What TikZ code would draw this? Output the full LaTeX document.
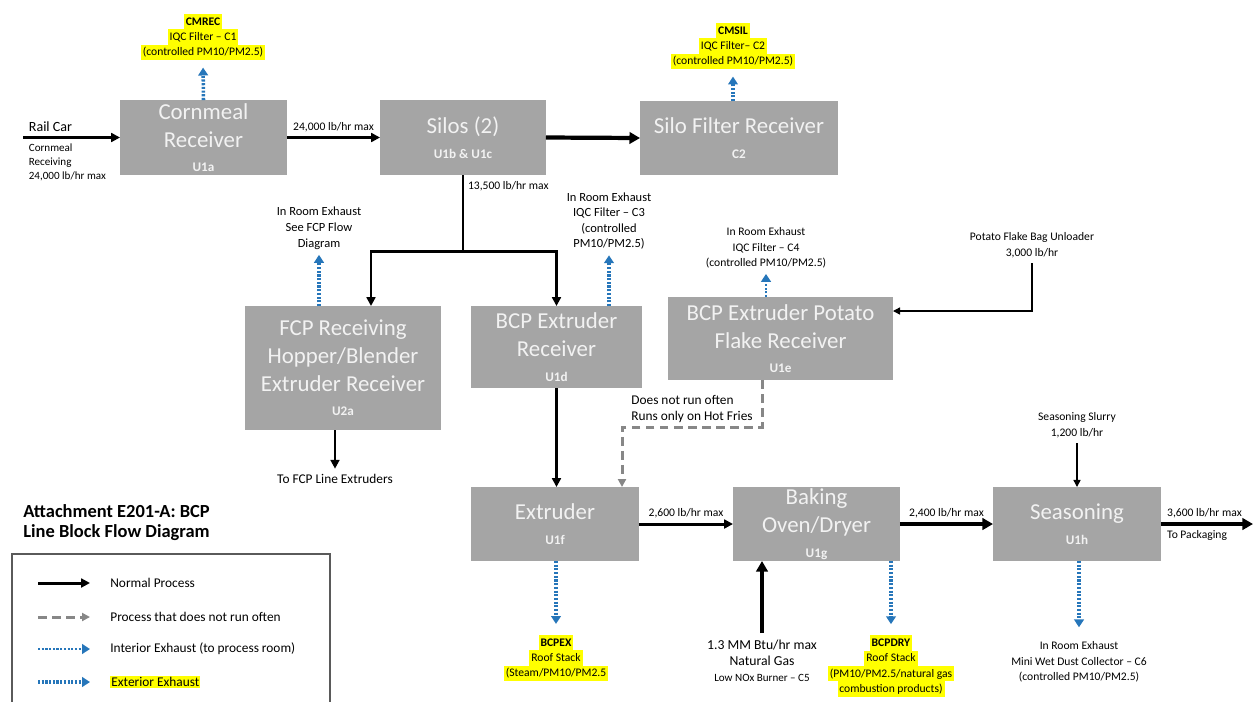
\documentclass[tikz,border=0pt]{standalone}
\usepackage{fontspec}
\setmainfont{Carlito}
\usepackage{xcolor}
\usetikzlibrary{arrows.meta, positioning}

\definecolor{boxgray}{RGB}{165,165,165}
\definecolor{boxtext}{RGB}{242,242,242}
\definecolor{exblue}{RGB}{38,118,186}
\definecolor{hlyellow}{RGB}{255,255,0}
\definecolor{dashgray}{RGB}{135,135,135}
\definecolor{legframe}{RGB}{90,90,90}

\newcommand{\hl}[1]{{\setlength{\fboxsep}{0pt}\colorbox{hlyellow}{\rule[-2.4pt]{0pt}{8.8pt}\,#1\,}}}
\newcommand{\unitid}[1]{{\fontsize{7.5}{9}\selectfont\bfseries #1}}

\begin{document}
\begin{tikzpicture}[
  x=0.02cm, y=-0.02cm,
  unitbox/.style={rectangle, fill=boxgray, text=boxtext, inner sep=0pt, outer sep=0pt,
    align=center, font=\fontsize{13}{15.9}\selectfont},
  lbl/.style={inner sep=0pt, align=center, font=\fontsize{6.6}{8.8}\selectfont},
  midlbl/.style={inner sep=0pt, align=center, font=\fontsize{7.6}{9}\selectfont},
  proc/.style={line width=1.7pt},
  flow/.style={proc, -{Triangle[length=5pt,width=5pt]}},
  bigflow/.style={line width=2.4pt, -{Triangle[length=6pt,width=6.5pt]}},
  thinflow/.style={-{Triangle[length=4pt,width=4pt]}, line width=0.8pt},
  rareflow/.style={-{Triangle[length=4.5pt,width=4.5pt]}, line width=1.7pt, draw=dashgray,
    dash pattern=on 5pt off 3pt},
  exhaust/.style={-{Triangle[length=4.5pt,width=5.5pt]}, line width=2pt, draw=exblue,
    dash pattern=on 1.2pt off 0.9pt},
  inexhaust/.style={exhaust, line width=1.3pt}
]
  \useasboundingbox (0,0) rectangle (1254,701);

  % process units
  \node[unitbox, minimum width=3.34cm, minimum height=1.5cm] (cmr) at (203.5,137.5) {Cornmeal\\Receiver\\[-2pt]\unitid{U1a}};
  \node[unitbox, minimum width=3.32cm, minimum height=1.5cm] (silo) at (463,137.5) {Silos (2)\\[-2pt]\unitid{U1b \& U1c}};
  \node[unitbox, minimum width=3.96cm, minimum height=1.48cm] (sfr) at (739,138) {Silo Filter Receiver\\[-2pt]\unitid{C2}};
  \node[unitbox, minimum width=3.92cm, minimum height=2.48cm] (fcp) at (343,368) {FCP Receiving\\Hopper/Blender\\Extruder Receiver\\[-2pt]\unitid{U2a}};
  \node[unitbox, minimum width=3.42cm, minimum height=1.64cm] (bcpr) at (556.5,347) {BCP Extruder\\Receiver\\[-2pt]\unitid{U1d}};
  \node[unitbox, minimum width=4.5cm, minimum height=1.66cm] (pfr) at (780.5,338.5) {BCP Extruder Potato\\Flake Receiver\\[-2pt]\unitid{U1e}};
  \node[unitbox, minimum width=3.36cm, minimum height=1.48cm] (ext) at (555,524) {Extruder\\[-2pt]\unitid{U1f}};
  \node[unitbox, minimum width=3.34cm, minimum height=1.48cm] (bake) at (816.5,524) {Baking\\Oven/Dryer\\[-2pt]\unitid{U1g}};
  \node[unitbox, minimum width=3.36cm, minimum height=1.48cm] (seas) at (1077,524) {Seasoning\\[-2pt]\unitid{U1h}};

  % control device and source labels
  \node[lbl] (cmrec) at (203,37) {\hl{\textbf{CMREC}}\\\hl{IQC Filter – C1}\\\hl{(controlled PM10/PM2.5)}};
  \node[lbl] (cmsil) at (733,46) {\hl{\textbf{CMSIL}}\\\hl{IQC Filter– C2}\\\hl{(controlled PM10/PM2.5)}};
  \node[lbl, font=\fontsize{7.1}{9}\selectfont] (fcpex) at (319,228) {In Room Exhaust\\See FCP Flow\\Diagram};
  \node[lbl, font=\fontsize{7.1}{8.9}\selectfont] (bcprex) at (609,221) {In Room Exhaust\\IQC Filter – C3\\(controlled\\PM10/PM2.5)};
  \node[lbl] (pfrex) at (766,248) {In Room Exhaust\\IQC Filter – C4\\(controlled PM10/PM2.5)};
  \node[lbl] (pfbu) at (1032,245) {Potato Flake Bag Unloader\\3,000 lb/hr};
  \node[lbl] (slurry) at (1077,425) {Seasoning Slurry\\1,200 lb/hr};
  \node[midlbl] (fcpout) at (335,479) {To FCP Line Extruders};
  \node[midlbl, anchor=west, align=left] (rarenote) at (631,409) {Does not run often\\Runs only on Hot Fries};
  \node[lbl] (bcpex) at (556,658) {\hl{\textbf{BCPEX}}\\\hl{Roof Stack}\\\hl{(Steam/PM10/PM2.5}};
  \node[lbl] (bcpdry) at (891,666) {\hl{\textbf{BCPDRY}}\\\hl{Roof Stack}\\\hl{(PM10/PM2.5/natural gas}\\\hl{combustion products)}};
  \node[lbl, font=\fontsize{6.3}{9}\selectfont] (gas) at (762,661) {{\fontsize{7.8}{9}\selectfont 1.3 MM Btu/hr max}\\{\fontsize{7.8}{9}\selectfont Natural Gas}\\Low NOx Burner – C5};
  \node[lbl] (wetdc) at (1079,662) {In Room Exhaust\\Mini Wet Dust Collector – C6\\(controlled PM10/PM2.5)};

  % main process flow
  \coordinate (rail) at (23,137.5);
  \draw[flow] (rail) -- (cmr.west)
    node[pos=0, anchor=south west, inner sep=2.5pt, font=\fontsize{8}{9}\selectfont] {Rail Car}
    node[pos=0, anchor=north west, inner sep=2.5pt, align=left, font=\fontsize{6.3}{8.2}\selectfont] {Cornmeal\\Receiving\\24,000 lb/hr max};
  \draw[flow] (cmr.east) -- (silo.west) node[midway, above, lbl, inner sep=2.5pt] {24,000 lb/hr max};
  \draw[bigflow] (silo.east) -- (sfr.west);

  \coordinate (split) at (463,251);
  \coordinate (fcpin) at (371,251);
  \draw[proc] (silo.south) -- (split) node[pos=0.15, right, lbl, inner sep=2pt] {13,500 lb/hr max};
  \draw[flow] (split) -- (fcpin) -- (fcpin |- fcp.north);
  \draw[flow] (split) -| (bcpr.north);
  \draw[flow, line width=1.3pt] (bcpr.south) -- (bcpr.south |- ext.north);
  \draw[flow] (fcp.south -| fcpout) -- (fcpout.north) [shorten >=3pt];

  \coordinate (rare1) at (762,427);
  \coordinate (rare2) at (622,427);
  \draw[rareflow] (pfr.south -| rare1) -- (rare1) -- (rare2) -- (rare2 |- ext.north);

  \coordinate (pfbend) at (1032,311);
  \draw[thinflow, shorten <=3pt] (pfbu.south) -- (pfbend) -- (pfbend -| pfr.east);
  \draw[thinflow, shorten <=3pt] (slurry.south) -- (seas.north);

  \draw[flow] (ext.east) -- (bake.west) node[midway, above, lbl, inner sep=2.5pt] {2,600 lb/hr max};
  \draw[bigflow, line width=2.2pt] (bake.east) -- (seas.west) node[midway, above, lbl, inner sep=2.5pt] {2,400 lb/hr max};
  \coordinate (pack) at (1253,524);
  \draw[bigflow, line width=2pt] (seas.east) -- (pack)
    node[pos=0, anchor=south west, lbl, inner sep=2.5pt] {3,600 lb/hr max}
    node[pos=0, anchor=north west, lbl, inner sep=2.5pt] {To Packaging};
  \draw[bigflow, line width=2.2pt, shorten <=4pt] (gas.north) -- (gas.north |- bake.south);

  % exhausts
  \draw[exhaust, shorten >=4pt] (cmr.north) -- (cmrec.south);
  \draw[exhaust, shorten >=4pt] (sfr.north -| cmsil.south) -- (cmsil.south);
  \draw[exhaust, shorten >=3pt] (fcp.north -| fcpex.south) -- (fcpex.south);
  \draw[exhaust, shorten >=3pt] (bcpr.north -| bcprex.south) -- (bcprex.south);
  \draw[inexhaust, shorten >=3pt] (pfr.north -| pfrex.south) -- (pfrex.south);
  \draw[exhaust, shorten >=6pt] (ext.south -| bcpex.north) -- (bcpex.north);
  \draw[exhaust, shorten >=6pt] (bake.south -| bcpdry.north) -- (bcpdry.north);
  \draw[exhaust, shorten >=8pt] (seas.south -| wetdc.north) -- (wetdc.north);

  % title and legend
  \node[anchor=west, align=left, inner sep=0pt, font=\fontsize{10.5}{11.4}\selectfont\bfseries] (title) at (23,523) {Attachment E201-A: BCP\\Line Block Flow Diagram};
  \draw[legframe, line width=0.6pt] (12,702) -- (12,554) -- (330,554) -- (330,702);
  \node[midlbl, anchor=west] (leg1) at (110,583) {Normal Process};
  \node[midlbl, anchor=west] (leg2) at (110,617) {Process that does not run often};
  \node[midlbl, anchor=west] (leg3) at (110,649) {Interior Exhaust (to process room)};
  \node[midlbl, anchor=west] (leg4) at (110,682) {\setlength{\fboxsep}{0.6pt}\colorbox{hlyellow}{Exterior Exhaust}};
  \draw[flow] ([xshift=-1.44cm]leg1.west) -- ([xshift=-0.4cm]leg1.west);
  \draw[rareflow] ([xshift=-1.44cm]leg2.west) -- ([xshift=-0.4cm]leg2.west);
  \draw[inexhaust] ([xshift=-1.44cm]leg3.west) -- ([xshift=-0.4cm]leg3.west);
  \draw[exhaust] ([xshift=-1.44cm]leg4.west) -- ([xshift=-0.4cm]leg4.west);
\end{tikzpicture}
\end{document}
